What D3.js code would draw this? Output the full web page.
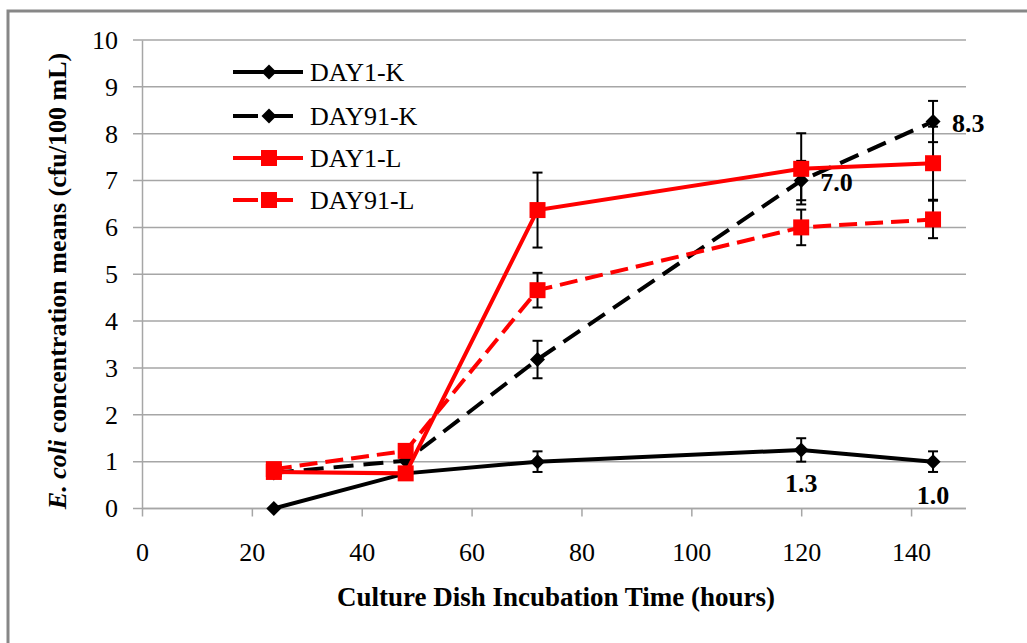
<!DOCTYPE html>
<html>
<head>
<meta charset="utf-8">
<script src="https://cdn.jsdelivr.net/npm/d3@7"></script>
<style>
  body { margin: 0; background: #fff; }
  svg text { font-family: "Times New Roman", "Liberation Serif", Tinos, "DejaVu Serif", serif; fill: #000; }
</style>
</head>
<body>
<div id="chart"></div>
<script>
// E. coli concentration means by incubation time, with error bars

const hours = [24, 48, 72, 120, 144];
const seriesNames = ['DAY1-K', 'DAY91-K', 'DAY1-L', 'DAY91-L'];
const day1K = [0, 0.75, 1.0, 1.25, 1.0];
const day91K = [0.76, 1.02, 3.18, 7.0, 8.26];
const day1L = [0.78, 0.75, 6.37, 7.25, 7.37];
const day91L = [0.84, 1.23, 4.66, 6.0, 6.17];
const err1K = [0, 0, 0.22, 0.25, 0.22];
const err91K = [0, 0, 0.4, 0.42, 0.44];
const err1L = [0, 0, 0.8, 0.76, 0.78];
const err91L = [0, 0, 0.37, 0.38, 0.4];
const xTicks = [0, 20, 40, 60, 80, 100, 120, 140];
const yTicks = [0, 1, 2, 3, 4, 5, 6, 7, 8, 9, 10];
// point labels: series index, point index, text, placement
const pointLabels = [
  { s: 1, i: 4, text: '8.3', pos: 'right' },
  { s: 1, i: 3, text: '7.0', pos: 'right' },
  { s: 0, i: 3, text: '1.3', pos: 'below' },
  { s: 0, i: 4, text: '1.0', pos: 'below' }
];

const W = 1027, H = 643;
const plot = { left: 142, right: 966, top: 40, bottom: 508.5 };
const FONT = '"Times New Roman", "Liberation Serif", Tinos, "DejaVu Serif", serif';

const series = [
  { name: seriesNames[0], values: day1K, err: err1K, color: '#000', dash: null, marker: 'diamond' },
  { name: seriesNames[1], values: day91K, err: err91K, color: '#000', dash: '20,10', marker: 'diamond' },
  { name: seriesNames[2], values: day1L, err: err1L, color: '#ff0000', dash: null, marker: 'square' },
  { name: seriesNames[3], values: day91L, err: err91L, color: '#ff0000', dash: '18,8', marker: 'square' }
];

const svg = d3.select('#chart').append('svg')
  .attr('width', W)
  .attr('height', H)
  .attr('font-family', FONT);

// outer chart border (only top and left visible)
svg.append('rect')
  .attr('x', 8).attr('y', 11)
  .attr('width', 1100).attr('height', 800)
  .attr('fill', 'none')
  .attr('stroke', '#878787')
  .attr('stroke-width', 3);

const x = d3.scaleLinear().domain([0, 150]).range([plot.left, plot.right]);
const y = d3.scaleLinear().domain([0, 10]).range([plot.bottom, plot.top]);

// gridlines
svg.append('g')
  .selectAll('line')
  .data(yTicks)
  .enter()
  .append('line')
  .attr('x1', plot.left - 9)
  .attr('x2', plot.right)
  .attr('y1', d => y(d))
  .attr('y2', d => y(d))
  .attr('stroke', '#a6a6a6')
  .attr('stroke-width', 1.5);

// y axis
const yAxis = svg.append('g')
  .attr('transform', `translate(${plot.left},0)`)
  .call(d3.axisLeft(y).tickValues(yTicks).tickSize(0).tickPadding(24).tickFormat(d3.format('d')));
yAxis.attr('font-family', FONT);
yAxis.select('.domain').attr('stroke', '#a6a6a6').attr('stroke-width', 1.5);
yAxis.selectAll('text')
  .style('font-size', '26px')
  .style('font-family', FONT);

// x axis
const xAxis = svg.append('g')
  .attr('transform', `translate(0,${plot.bottom})`)
  .call(d3.axisBottom(x).tickValues(xTicks).tickSize(8).tickPadding(26).tickFormat(d3.format('d')));
xAxis.attr('font-family', FONT);
xAxis.select('.domain').attr('d', `M${plot.left},0H${plot.right}`).attr('stroke', '#a6a6a6').attr('stroke-width', 1.5);
xAxis.selectAll('.tick line').attr('stroke', '#a6a6a6').attr('stroke-width', 1.5);
xAxis.selectAll('text')
  .style('font-size', '26px')
  .style('font-family', FONT);

// axis titles
svg.append('text')
  .attr('x', (plot.left + plot.right) / 2 + 2)
  .attr('y', 606)
  .attr('text-anchor', 'middle')
  .style('font-size', '27px')
  .style('font-weight', 'bold')
  .text('Culture Dish Incubation Time (hours)');

const yTitle = svg.append('text')
  .attr('transform', 'translate(66,281) rotate(-90)')
  .attr('text-anchor', 'middle')
  .style('font-size', '26px')
  .style('font-weight', 'bold');
yTitle.append('tspan').style('font-style', 'italic').text('E. coli');
yTitle.append('tspan').text(' concentration means (cfu/100 mL)');

function markerPath(type) {
  if (type === 'diamond') return 'M0,-7.5L7.5,0L0,7.5L-7.5,0Z';
  return 'M-8,-8H8V8H-8Z';
}

const line = d3.line()
  .x(d => x(d.h))
  .y(d => y(d.v));

// series: line, error bars, markers
series.forEach(s => {
  const pts = hours.map((h, i) => ({ h: h, v: s.values[i], e: s.err[i] }));
  const g = svg.append('g');

  g.append('path')
    .datum(pts)
    .attr('d', line)
    .attr('fill', 'none')
    .attr('stroke', s.color)
    .attr('stroke-width', 4)
    .attr('stroke-dasharray', s.dash);

  const eb = g.selectAll('.err')
    .data(pts.filter(p => p.e > 0))
    .enter()
    .append('g')
    .attr('class', 'err');
  eb.append('line')
    .attr('x1', d => x(d.h)).attr('x2', d => x(d.h))
    .attr('y1', d => y(d.v + d.e)).attr('y2', d => y(d.v - d.e))
    .attr('stroke', '#000').attr('stroke-width', 2);
  eb.append('line')
    .attr('x1', d => x(d.h) - 5).attr('x2', d => x(d.h) + 5)
    .attr('y1', d => y(d.v + d.e)).attr('y2', d => y(d.v + d.e))
    .attr('stroke', '#000').attr('stroke-width', 2);
  eb.append('line')
    .attr('x1', d => x(d.h) - 5).attr('x2', d => x(d.h) + 5)
    .attr('y1', d => y(d.v - d.e)).attr('y2', d => y(d.v - d.e))
    .attr('stroke', '#000').attr('stroke-width', 2);

  g.selectAll('.marker')
    .data(pts)
    .enter()
    .append('path')
    .attr('class', 'marker')
    .attr('transform', d => `translate(${x(d.h)},${y(d.v)})`)
    .attr('d', markerPath(s.marker))
    .attr('fill', s.color);
});

// point labels
svg.selectAll('.pt-label')
  .data(pointLabels)
  .enter()
  .append('text')
  .attr('class', 'pt-label')
  .attr('x', d => x(hours[d.i]) + (d.pos === 'right' ? 19 : 0))
  .attr('y', d => y(series[d.s].values[d.i]) + (d.pos === 'right' ? 10 : 42))
  .attr('text-anchor', d => d.pos === 'right' ? 'start' : 'middle')
  .style('font-size', '26px')
  .style('font-weight', 'bold')
  .text(d => d.text);

// legend
const legendRows = [72, 116, 158, 200];
const legend = svg.append('g');
series.forEach((s, i) => {
  const row = legend.append('g').attr('transform', `translate(233,${legendRows[i]})`);
  row.append('line')
    .attr('x1', 0).attr('x2', 70)
    .attr('y1', 0).attr('y2', 0)
    .attr('stroke', s.color)
    .attr('stroke-width', 4)
    .attr('stroke-dasharray', s.dash ? '25,10' : null);
  row.append('path')
    .attr('transform', 'translate(36,0)')
    .attr('d', markerPath(s.marker))
    .attr('fill', s.color);
  row.append('text')
    .attr('x', 77)
    .attr('y', 9)
    .style('font-size', '26px')
    .text(s.name);
});
</script>
</body>
</html>
